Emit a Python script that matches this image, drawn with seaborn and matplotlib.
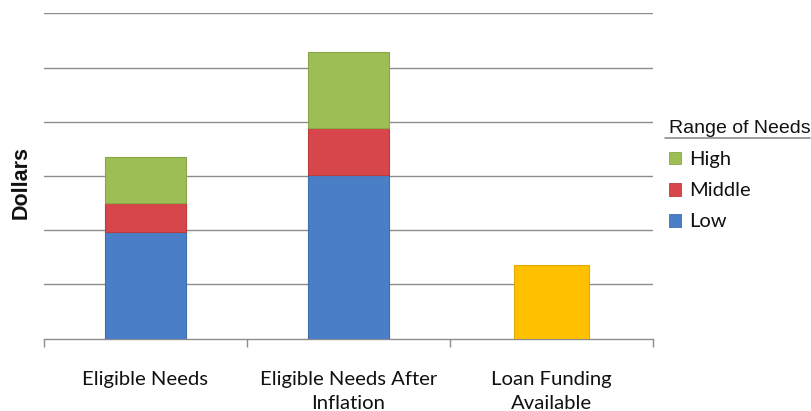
import matplotlib
matplotlib.use("Agg")
import matplotlib.pyplot as plt
from matplotlib.patches import Patch
from matplotlib.lines import Line2D
import seaborn as sns
import pandas as pd

# Funding needs by range, in gridline units of dollars
categories = ["Eligible Needs", "Eligible Needs After\nInflation", "Loan Funding\nAvailable"]
need_categories = ["Eligible Needs", "Eligible Needs After\nInflation"]
low = [1.96, 3.01]
middle = [0.54, 0.87]
high = [0.85, 1.40]
loan_category = ["Loan Funding\nAvailable"]
loan = [1.35]

colors = {"Low": "#4A7EC7", "Middle": "#D7464A", "High": "#9CBE55", "Loan": "#FFC000"}
edges = {"Low": "#3F6DAE", "Middle": "#B83C40", "High": "#86A848", "Loan": "#E2AA00"}

sns.set_theme(style="white")
plt.rcParams["font.family"] = ["Lato", "DejaVu Sans"]

fig = plt.figure(figsize=(8.12, 4.11), dpi=100)
ax = fig.add_axes([44 / 812, 1 - 338.7 / 411, (653 - 44) / 812, (338.7 - 13.3) / 411])

needs = pd.DataFrame({"category": need_categories, "Low": low, "Middle": middle, "High": high})
needs["low_mid"] = needs["Low"] + needs["Middle"]
loan_df = pd.DataFrame({"category": loan_category, "value": loan})

sns.barplot(data=needs, x="category", y="Low", order=categories, color=colors["Low"],
            width=0.4, edgecolor=edges["Low"], linewidth=0.8, saturation=1, ax=ax, zorder=3)
sns.barplot(data=needs, x="category", y="Middle", order=categories, color=colors["Middle"],
            bottom=needs["Low"].tolist(), width=0.4, edgecolor=edges["Middle"], linewidth=0.8,
            saturation=1, ax=ax, zorder=3)
sns.barplot(data=needs, x="category", y="High", order=categories, color=colors["High"],
            bottom=needs["low_mid"].tolist(), width=0.4, edgecolor=edges["High"], linewidth=0.8,
            saturation=1, ax=ax, zorder=3)
sns.barplot(data=loan_df, x="category", y="value", order=categories, color=colors["Loan"],
            width=0.365, edgecolor=edges["Loan"], linewidth=0.8, saturation=1, ax=ax, zorder=3)

ax.set_xlim(-0.5, 2.5)
ax.set_ylim(0, 6)
ax.set_yticks([1, 2, 3, 4, 5, 6])
ax.set_yticklabels([])
ax.tick_params(axis="y", length=0)
ax.yaxis.grid(True, color="#8C8C8C", linewidth=1.0, zorder=0)
ax.set_axisbelow(True)

# Category boundary ticks below the axis, labels centred under each bar
ax.set_xticks([-0.5, 0.5, 1.5, 2.5])
ax.set_xticklabels([])
ax.set_xticks([0, 1, 2], minor=True)
ax.set_xticklabels(categories, minor=True, fontsize=14.6, linespacing=1.5, color="#111111")
ax.tick_params(axis="x", which="major", length=6, width=1, color="#8C8C8C", direction="out", bottom=True)
ax.tick_params(axis="x", which="minor", length=0, pad=23)

for side in ["top", "right", "left"]:
    ax.spines[side].set_visible(False)
ax.spines["bottom"].set_color("#8C8C8C")
ax.spines["bottom"].set_linewidth(1)

ax.set_xlabel("")
ax.set_ylabel("")
fig.text(21 / 812, 1 - 182 / 411, "Dollars", rotation=90, ha="center", va="center",
         fontsize=15.5, fontweight="bold", family=["Liberation Sans", "DejaVu Sans"], color="#111111")

handles = [Patch(facecolor=colors[k], edgecolor=edges[k], linewidth=0.6) for k in ["High", "Middle", "Low"]]
leg = ax.legend(handles, ["High", "Middle", "Low"], loc="upper left",
                bbox_to_anchor=(661 / 812, 1 - 112 / 411), bbox_transform=fig.transFigure,
                frameon=False, fontsize=14.5, title="Range of Needs",
                title_fontproperties={"family": ["Liberation Sans", "DejaVu Sans"], "size": 14},
                handlelength=0.6, handleheight=0.6, handletextpad=0.4, labelspacing=0.7,
                alignment="left", borderaxespad=0)
for t in leg.get_texts():
    t.set_color("#111111")
leg.get_title().set_color("#111111")

fig.add_artist(Line2D([665 / 812, 810 / 812], [1 - 138 / 411, 1 - 138 / 411],
                      transform=fig.transFigure, color="#8C8C8C", linewidth=1.2))

fig.savefig("out.png", dpi=100)
